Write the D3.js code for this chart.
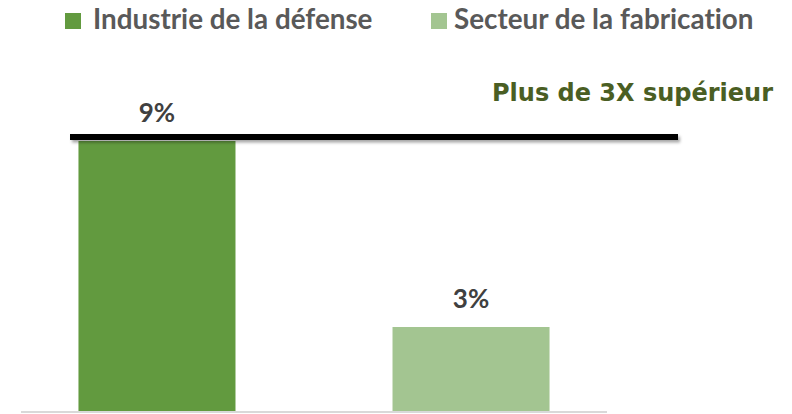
<!DOCTYPE html>
<html>
<head>
<meta charset="utf-8">
<script src="https://cdn.jsdelivr.net/npm/d3@7"></script>
<style>
  body { margin: 0; background: #fff; }
  svg { display: block; font-family: Lato, "Open Sans", sans-serif; font-variant-ligatures: none; }
</style>
</head>
<body>
<svg></svg>
<script>
// data
var series = ["Industrie de la défense", "Secteur de la fabrication"];
var values = [9, 2.8];
var colors = ["#629a3f", "#a3c591"];
var calloutText = "Plus de 3X supérieur";

var svgWidth = 792, svgHeight = 414;

var svg = d3.select("svg")
    .attr("width", svgWidth)
    .attr("height", svgHeight);

var x = d3.scaleBand()
    .domain(series)
    .range([21, 607])
    .paddingInner(0.5)
    .paddingOuter(0.183);

var y = d3.scaleLinear()
    .domain([0, 10])
    .range([411, 111]);

// shadow for the callout line
var defs = svg.append("defs");
defs.append("filter")
    .attr("id", "shadow")
    .attr("filterUnits", "userSpaceOnUse")
    .attr("x", 50).attr("y", 120)
    .attr("width", 660).attr("height", 40)
  .append("feDropShadow")
    .attr("dx", 2).attr("dy", 2.5)
    .attr("stdDeviation", 1.5)
    .attr("flood-color", "#000")
    .attr("flood-opacity", 0.35);

// legend
var legendX = [65, 431];
var legendTextX = [28, 23];
var legend = svg.selectAll("g.legend")
    .data(series)
    .enter()
    .append("g")
    .attr("class", "legend")
    .attr("transform", function(d, i) { return "translate(" + legendX[i] + ",0)"; });

legend.append("rect")
    .attr("x", 0).attr("y", 13)
    .attr("width", 16).attr("height", 16)
    .attr("fill", function(d, i) { return colors[i]; });

legend.append("text")
    .attr("x", function(d, i) { return legendTextX[i]; })
    .attr("y", 29)
    .attr("fill", "#595959")
    .style("font-size", "27.8px")
    .style("font-weight", "bold")
    .text(function(d) { return d; });

// bars
svg.selectAll("rect.bar")
    .data(values)
    .enter()
    .append("rect")
    .attr("class", "bar")
    .attr("x", function(d, i) { return x(series[i]); })
    .attr("y", function(d) { return y(d); })
    .attr("width", x.bandwidth())
    .attr("height", function(d) { return y(0) - y(d); })
    .attr("fill", function(d, i) { return colors[i]; });

// value labels
svg.selectAll("text.value")
    .data(values)
    .enter()
    .append("text")
    .attr("class", "value")
    .attr("x", function(d, i) { return x(series[i]) + x.bandwidth() / 2; })
    .attr("y", function(d) { return y(d) - 19; })
    .attr("text-anchor", "middle")
    .attr("fill", "#404040")
    .style("font-size", "26px")
    .style("font-weight", "bold")
    .text(function(d) { return d3.format(".0f")(d) + "%"; });

// baseline axis
svg.append("line")
    .attr("x1", 21).attr("x2", 607)
    .attr("y1", y(0) + 1).attr("y2", y(0) + 1)
    .attr("stroke", "#d9d9d9")
    .attr("stroke-width", 2);

// callout line + text
svg.append("rect")
    .attr("x", 70).attr("y", 134)
    .attr("width", 608).attr("height", 6)
    .attr("fill", "#000")
    .attr("filter", "url(#shadow)");

svg.append("text")
    .attr("x", 773).attr("y", 101)
    .attr("text-anchor", "end")
    .attr("fill", "#4a5e23")
    .style("font-family", "'DejaVu Sans', sans-serif")
    .style("font-size", "24px")
    .style("font-weight", "bold")
    .text(calloutText);
</script>
</body>
</html>
